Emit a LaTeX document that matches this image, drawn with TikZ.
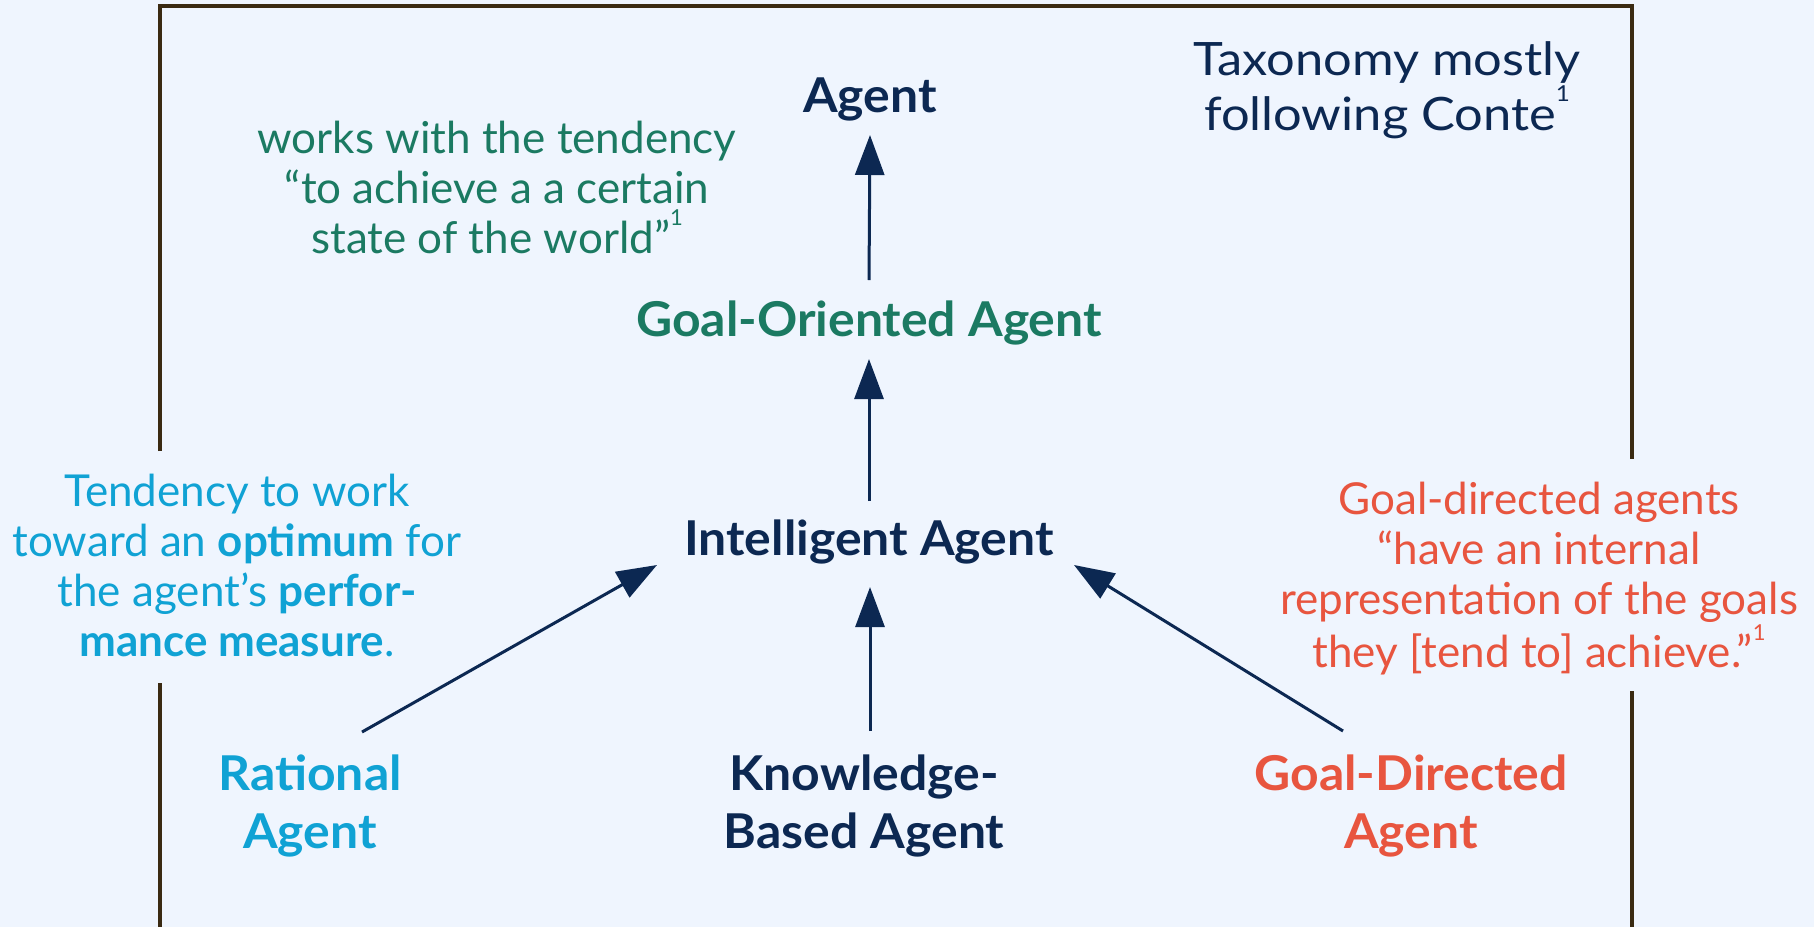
\documentclass[tikz,border=0pt]{standalone}
\usepackage{fontspec}
\setmainfont{Lato}
\newfontfamily\notefont{Lato}
\newfontfamily\widenotefont[FakeStretch=1.1]{Lato}
\newfontfamily\labfont[FakeStretch=1.04]{Lato}
\usetikzlibrary{arrows.meta,calc}

\definecolor{navy}{HTML}{0C2852}
\definecolor{goalgreen}{HTML}{1B7A62}
\definecolor{ratcyan}{HTML}{10A2D4}
\definecolor{dirred}{HTML}{E8553F}
\definecolor{framecol}{HTML}{3A2A12}
\definecolor{bgcol}{HTML}{EFF5FE}

% small raised reference mark
\newcommand{\refmark}{\raisebox{0.62em}{\fontsize{11}{11}\selectfont 1}}

\begin{document}
\begin{tikzpicture}[x=0.5pt,y=-0.5pt,
  agentlbl/.style={font=\labfont\bfseries\fontsize{24}{29}\selectfont, inner sep=0pt, align=center},
  notetxt/.style={font=\notefont\fontsize{22}{25}\selectfont, inner sep=0pt, align=center},
  arr/.style={draw=navy, line width=1.5pt, -{Triangle[length=20pt,width=14.5pt]}},
  framestroke/.style={draw=framecol, line width=1.75pt, line join=miter}]

% canvas
\fill[bgcol] (0,0) rectangle (1814,927);
\useasboundingbox (0,0) rectangle (1814,927);

% open frame around the taxonomy
\draw[framestroke] (160,451) -- (160,6) -- (1632,6) -- (1632,459);
\draw[framestroke] (160,683) -- (160,927);
\draw[framestroke] (1632,691) -- (1632,927);

% taxonomy levels
\node[agentlbl, text=navy, anchor=base] (agent) at (870,112) {Agent};
\node[agentlbl, text=goalgreen, anchor=base] (goal) at (869,336) {Goal-Oriented Agent};
\node[agentlbl, text=navy, anchor=base] (intel) at (869,555) {Intelligent Agent};
\node[agentlbl, text=ratcyan] (rational) at (310,806) {Rational\\Agent};
\node[agentlbl, text=navy] (know) at (864,806) {Knowledge-\\Based Agent};
\node[agentlbl, text=dirred] (directed) at (1411,806) {Goal-Directed\\Agent};

% explanatory notes
\node[notetxt, text=goalgreen] (worksnote) at (497,187)
  {works with the tendency\\“to achieve a a certain\\state of the world”\refmark};
\node[notetxt, text=navy, font=\widenotefont\fontsize{23}{27.5}\selectfont] (taxnote) at (1387,90)
  {Taxonomy mostly\\following Conte\refmark};
\node[notetxt, text=ratcyan] (ratnote) at (237,565)
  {Tendency to work\\toward an \textbf{optimum} for\\the agent’s \textbf{perfor-}\\\textbf{mance measure}.};
\node[notetxt, text=dirred] (dirnote) at (1539,579)
  {Goal-directed agents\\“have an internal\\representation of the goals\\they [tend to] achieve.”\refmark};

% specialisation arrows
\draw[arr] ($(goal.base)+(0,-56)$) -- ($(agent.base)+(0,23)$);
\draw[arr] ($(intel.base)+(0,-54)$) -- ($(goal.base)+(0,23)$);
\draw[arr] ($(know.center)+(6,-75)$) -- ($(intel.base)+(1,32)$);
\draw[arr] ($(rational.center)+(52,-74)$) -- ($(intel.base)+(-212,10)$);
\draw[arr] ($(directed.center)+(-68,-75)$) -- ($(intel.base)+(205,10)$);
\end{tikzpicture}
\end{document}
